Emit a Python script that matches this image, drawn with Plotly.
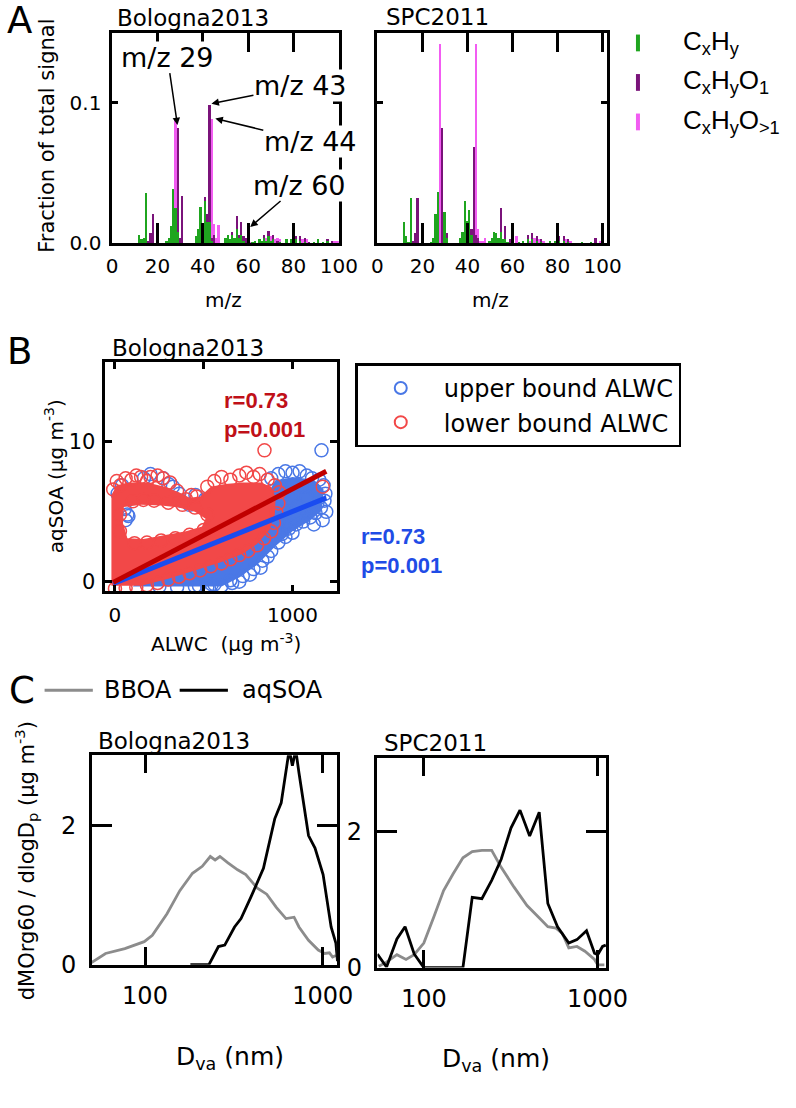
import plotly.graph_objects as go

W, H = 796, 1108
def px(x): return x / W
def py(y): return 1 - y / H

# ---------------- Panel A : mass spectra (fraction of total signal) ----------------
mz = list(range(12, 101))

bol_hc_mz = [12,13,14,15,24,25,26,27,28,29,37,38,39,40,41,42,43,44,50,51,52,53,54,55,56,57,58,62,63,65,66,67,68,69,70,71,74,77,79,81,83,85,89,91,93,95]
bol_hc    = [.006,.003,.004,.036,.002,.004,.012,.039,.025,.008,.005,.010,.026,.011,.030,.015,.015,.002,.004,.006,.003,.006,.004,.010,.004,.006,.002,.001,.002,.003,.002,.004,.002,.005,.002,.003,.001,.003,.003,.003,.002,.001,.001,.003,.001,.002]
bol_o1_mz = [16,17,18,29,30,31,41,42,43,44,45,53,55,56,57,58,59,67,69,71,73,81,83,85,87,95,97]
bol_o1    = [.002,.007,.021,.074,.004,.034,.003,.006,.084,.002,.006,.002,.0095,.002,.009,.003,.004,.002,.004,.003,.002,.002,.003,.003,.001,.001,.002]
bol_o2_mz = [28,44,45,46,47,60,61,68,70,72,73,74,84,86,98,99,100]
bol_o2    = [.064,.085,.008,.004,.013,.009,.001,.002,.003,.003,.002,.002,.003,.003,.002,.002,.002]

spc_hc_mz = [12,13,14,15,24,25,26,27,30,31,37,38,39,40,41,42,50,51,52,53,54,55,56,57,58,63,65,67,69,71,73,77,79,81,83,85,91,95]
spc_hc    = [.015,.0055,.001,.032,.001,.004,.021,.0366,.022,.004,.004,.008,.030,.016,.0235,.006,.002,.004,.008,.007,.004,.008,.003,.003,.001,.001,.002,.003,.003,.002,.001,.002,.002,.002,.002,.001,.001,.001]
spc_o1_mz = [16,17,18,29,31,42,43,44,45,55,57,59,67,69,71,73,81,83,85,97]
spc_o1    = [.002,.0077,.032,.0824,.003,.004,.069,.006,.004,.017,.009,.003,.003,.004,.003,.002,.003,.003,.002,.004]
spc_o2_mz = [28,44,45,46,47,48,60,62,68,70,72,74,84,86,99]
spc_o2    = [.142,.136,.006,.002,.002,.004,.002,.005,.002,.004,.003,.002,.003,.002,.002]

family_names = ["C<sub>x</sub>H<sub>y</sub>", "C<sub>x</sub>H<sub>y</sub>O<sub>1</sub>", "C<sub>x</sub>H<sub>y</sub>O<sub>&gt;1</sub>"]
family_colors = ["#1fa51f", "#7a137a", "#f25cf2"]

# ---------------- Panel B : aqSOA vs ALWC ----------------
# dense part of each point cloud (outline of the overlapping circles)
upper_core_x = [100, 600, 700, 800, 900, 1000, 1100, 1165, 1175, 1120, 1000, 900, 850, 600, 300]
upper_core_y = [-0.35, -0.35, 0.3, 1.2, 2.5, 3.6, 4.4, 5.1, 6.6, 7.3, 7.5, 7.2, 6.0, 3.0, 2.0]
lower_core_x = [-20, -20, 10, 80, 180, 280, 360, 420, 480, 540, 620, 720, 820, 880, 905, 900, 870, 800, 720, 600, 450, 300, 150]
lower_core_y = [-0.3, 6.2, 6.9, 7.1, 7.1, 6.8, 6.4, 6.0, 6.1, 6.8, 7.0, 7.1, 7.1, 6.8, 6.0, 4.8, 3.7, 2.7, 2.0, 1.4, 0.8, 0.2, -0.3]
lower_hole_x = [50, 150, 260, 360, 450, 510, 490, 400, 280, 160, 70, 45]
lower_hole_y = [5.35, 5.5, 5.45, 5.3, 5.0, 4.5, 3.95, 3.6, 3.3, 3.05, 3.1, 4.2]

# individual circles around the dense parts
upper_x = [15, 40, 163, 200, 272, 300, 326, 362, 370, 453, 508, 560, 420,
           55, 70, 60, 76,
           880, 920, 960, 1000, 1040, 1080, 1110, 1150, 1175, 1185, 1180, 1160, 1130, 1100, 1060, 1020, 980, 940,
           1190, 1150, 1110, 1070, 1030, 990, 1120, 1060, 1000, 950, 1080, 1140, 960, 920, 1010, 1170, 1120,
           1163,
           250, 350, 450, 520, 600, 660, 720, 780, 830, 880, 920, 560, 650, 473, 545, 700, 760, 820, 860, 960, 1000]
upper_y = [6.3, 6.9, 7.4, 7.7, 7.4, 7.0, 6.8, 6.3, 5.8, 6.2, 5.9, 5.6, 5.5,
           5.2, 4.8, 4.4, 4.7,
           7.4, 7.7, 7.9, 7.8, 7.9, 7.6, 7.4, 7.3, 6.9, 6.3, 5.8, 5.3, 4.9, 4.6, 4.3, 4.1, 3.8, 3.4,
           5.0, 6.0, 5.3, 5.0, 5.4, 5.9, 6.6, 6.8, 6.9, 6.4, 6.1, 5.6, 5.0, 4.3, 4.6, 4.4, 4.1,
           9.4,
           -0.35, -0.4, -0.35, -0.4, -0.3, -0.1, 0.4, 0.9, 1.5, 2.2, 2.8, -0.2, 0.1, -0.3, -0.2, 0.0, 0.5, 1.0, 1.8, 3.2, 3.5]
lower_x = [-10, 10, 30, 60, 93, 120, 147, 180, 200, 240, 270, 310, 350, 400, 430, 460,
           100, 160, 220, 300, 380, 450, 520, 500, 420, 340, 260, 180, 110, 28, 28,
           520, 560, 600, 650, 700, 740, 780, 815, 860, 900, 925, 920, 910, 895,
           880, 840, 800, 750, 700, 650, 600, 540, 480, 420, 360, 300, 240, 180, 120, 60, 0,
           842, 1170]
lower_y = [6.6, 7.2, 6.9, 7.4, 7.3, 7.6, 7.5, 7.2, 7.5, 7.6, 7.4, 7.1, 6.5, 5.9, 6.2, 6.1,
           5.75, 5.85, 5.8, 5.65, 5.5, 5.3, 4.8, 3.7, 3.35, 3.1, 2.95, 2.8, 2.75, 3.6, 4.8,
           6.8, 7.2, 7.5, 7.3, 7.6, 7.8, 7.5, 7.7, 7.3, 6.9, 6.4, 5.6, 4.9, 4.2,
           3.6, 3.1, 2.6, 2.2, 1.9, 1.6, 1.3, 1.1, 0.8, 0.6, 0.35, 0.15, -0.1, -0.25, -0.4, -0.45, -0.5,
           9.4, 6.8]
fit_x = [-10, 1190]
upper_fit = [-0.15, 6.0]
lower_fit = [-0.05, 7.9]

# ---------------- Panel C : size distributions ----------------
bol_bboa_d = [50, 53, 60, 77, 99, 110, 133, 157, 185, 210, 233, 248, 264, 293, 332, 369, 427, 484, 548, 621, 690, 735, 832, 944, 1026, 1091, 1137, 1186]
bol_bboa   = [0.03, 0.07, 0.16, 0.23, 0.33, 0.42, 0.73, 1.06, 1.31, 1.41, 1.55, 1.50, 1.55, 1.46, 1.36, 1.29, 1.10, 1.01, 0.82, 0.66, 0.68, 0.54, 0.35, 0.21, 0.16, 0.17, 0.11, 0.13]
bol_aq_d = [180, 229, 259, 281, 319, 347, 393, 464, 537, 584, 648, 675, 705, 735, 832, 905, 1005, 1070, 1115, 1186, 1211]
bol_aq   = [0, 0, 0.26, 0.28, 0.54, 0.66, 0.96, 1.38, 2.09, 2.32, 3.08, 2.85, 3.08, 2.75, 1.85, 1.67, 1.29, 0.87, 0.54, 0.31, 0.05]
spc_bboa_d = [55, 61, 70, 79, 88, 100, 114, 130, 147, 168, 190, 216, 246, 279, 331, 393, 466, 518, 577, 628, 684, 762, 847, 962, 1004, 1096]
spc_bboa   = [0.02, 0.08, 0.19, 0.12, 0.19, 0.36, 0.74, 1.13, 1.37, 1.61, 1.70, 1.72, 1.72, 1.47, 1.18, 0.91, 0.72, 0.60, 0.58, 0.50, 0.29, 0.31, 0.24, 0.12, 0.04, 0.04]
spc_aq_d = [54, 61, 70, 78, 88, 100, 168, 190, 216, 246, 279, 318, 358, 407, 462, 518, 589, 684, 762, 865, 962, 1004, 1070, 1117]
spc_aq   = [0.20, 0.01, 0.42, 0.60, 0.20, 0.0, 0.0, 1.03, 1.01, 1.28, 1.59, 2.05, 2.31, 1.93, 2.28, 0.94, 0.60, 0.36, 0.41, 0.54, 0.21, 0.19, 0.31, 0.33]

# ======================================================================
fig = go.Figure()

def dense(keys, vals):
    d = dict(zip(keys, vals))
    return [d.get(m, 0) for m in mz]

for xa, ya, series in [("x", "y", [(bol_hc_mz, bol_hc), (bol_o1_mz, bol_o1), (bol_o2_mz, bol_o2)]),
                       ("x2", "y2", [(spc_hc_mz, spc_hc), (spc_o1_mz, spc_o1), (spc_o2_mz, spc_o2)])]:
    for (k, v), name, col in zip(series, family_names, family_colors):
        fig.add_trace(go.Bar(x=mz, y=dense(k, v), width=1, marker=dict(color=col, line=dict(width=0)),
                             name=name, showlegend=False, xaxis=xa, yaxis=ya))

BLUE_PT = "#4a78e6"
RED_PT = "#f24848"
fig.add_trace(go.Scatter(x=upper_core_x + [upper_core_x[0]], y=upper_core_y + [upper_core_y[0]],
                         mode="lines", fill="toself", fillcolor=BLUE_PT, line=dict(width=0),
                         showlegend=False, hoverinfo="skip", xaxis="x3", yaxis="y3"))
fig.add_trace(go.Scatter(x=upper_x, y=upper_y, mode="markers", name="upper bound ALWC",
                         marker=dict(symbol="circle-open", size=13, color=BLUE_PT, line=dict(width=1.5, color=BLUE_PT)),
                         xaxis="x3", yaxis="y3"))
hx = lower_hole_x[::-1]
hy = lower_hole_y[::-1]
fig.add_trace(go.Scatter(x=lower_core_x + [lower_core_x[0]] + hx + [hx[0], lower_core_x[0]],
                         y=lower_core_y + [lower_core_y[0]] + hy + [hy[0], lower_core_y[0]],
                         mode="lines", fill="toself", fillcolor=RED_PT, line=dict(width=0),
                         showlegend=False, hoverinfo="skip", xaxis="x3", yaxis="y3"))
fig.add_trace(go.Scatter(x=lower_x, y=lower_y, mode="markers", name="lower bound ALWC",
                         marker=dict(symbol="circle-open", size=13, color=RED_PT, line=dict(width=1.5, color=RED_PT)),
                         xaxis="x3", yaxis="y3"))
fig.add_trace(go.Scatter(x=fit_x, y=upper_fit, mode="lines", line=dict(color="#1a4cf0", width=5),
                         showlegend=False, xaxis="x3", yaxis="y3"))
fig.add_trace(go.Scatter(x=fit_x, y=lower_fit, mode="lines", line=dict(color="#c00000", width=5),
                         showlegend=False, xaxis="x3", yaxis="y3"))

GRAY = "#8c8c8c"
for xa, ya, d1, v1, d2, v2 in [("x4", "y4", bol_bboa_d, bol_bboa, bol_aq_d, bol_aq),
                               ("x5", "y5", spc_bboa_d, spc_bboa, spc_aq_d, spc_aq)]:
    fig.add_trace(go.Scatter(x=d1, y=v1, mode="lines", line=dict(color=GRAY, width=2.8),
                             name="BBOA", showlegend=False, xaxis=xa, yaxis=ya))
    fig.add_trace(go.Scatter(x=d2, y=v2, mode="lines", line=dict(color="black", width=2.8),
                             name="aqSOA", showlegend=False, xaxis=xa, yaxis=ya))

def axis(domain, anchor, **kw):
    base = dict(domain=domain, anchor=anchor, showline=True, linecolor="black", linewidth=2.5,
                mirror="ticks", ticks="inside", tickcolor="black", tickwidth=2.5,
                showgrid=False, zeroline=False)
    base.update(kw)
    return base

FONT = "DejaVu Sans"
S = 18  # vertical offset for panels B and C
yA = [py(246), py(33)]
fig.update_layout(
    width=W, height=H, margin=dict(l=0, r=0, t=0, b=0),
    paper_bgcolor="white", plot_bgcolor="white",
    barmode="stack", bargap=0,
    font=dict(family=FONT, size=20, color="black"),
    xaxis=axis([px(110), px(345)], "y", range=[0, 100], tickvals=[0, 20, 40, 60, 80, 100],
               ticklen=20, tickfont=dict(size=20), ticklabelstandoff=3),
    yaxis=axis(yA, "x", range=[0, 0.15], tickvals=[0, 0.1], ticktext=["0.0", "0.1"],
               ticklen=6, tickfont=dict(size=20), ticklabelstandoff=4),
    xaxis2=axis([px(385), px(623)], "y2", range=[0, 102], tickvals=[0, 20, 40, 60, 80, 100],
                ticklen=20, tickfont=dict(size=20), ticklabelstandoff=3),
    yaxis2=axis(yA, "x2", range=[0, 0.15], tickvals=[0, 0.1], ticklen=6, showticklabels=False),
    xaxis3=axis([px(103), px(343)], "y3", range=[-54, 1250], tickvals=[0, 500, 1000],
                ticktext=["0", "", "1000"], ticklen=7, tickfont=dict(size=20), ticklabelstandoff=4),
    yaxis3=axis([py(617 - S), py(385 - S)], "x3", range=[-0.7, 15.7], tickvals=[0, 10],
                ticklen=7, tickfont=dict(size=21), ticklabelstandoff=3),
    xaxis4=axis([px(89), px(343)], "y4", type="log", range=[1.701, 3.08], tickvals=[100, 1000],
                ticktext=["100", "1000"], ticklen=18, tickfont=dict(size=24), ticklabelstandoff=8),
    yaxis4=axis([py(995 - S), py(783 - S)], "x4", range=[0, 3.0], tickvals=[0, 2],
                ticklen=20, tickfont=dict(size=24), ticklabelstandoff=8),
    xaxis5=axis([px(385), px(622)], "y5", type="log", range=[1.733, 3.05], tickvals=[100, 1000],
                ticktext=["100", "1000"], ticklen=18, tickfont=dict(size=24), ticklabelstandoff=8),
    yaxis5=axis([py(998 - S), py(786 - S)], "x5", range=[0, 3.07], tickvals=[0, 2],
                ticklen=20, tickfont=dict(size=24), ticklabelstandoff=8),
    legend=dict(x=px(362), y=py(386 - S), xanchor="left", yanchor="top", bordercolor="black",
                borderwidth=2.5, bgcolor="white", font=dict(size=24, family=FONT),
                itemsizing="constant", itemwidth=76, tracegroupgap=0, traceorder="normal"),
)

ann = []
def txt(x, y, s, size=20, xanchor="center", yanchor="middle", textangle=0, color="black",
        family=FONT, align="center"):
    ann.append(dict(x=px(x), y=py(y), xref="paper", yref="paper", text=s, showarrow=False,
                    xanchor=xanchor, yanchor=yanchor, textangle=textangle,
                    font=dict(size=size, color=color, family=family), align=align))

# panel letters
txt(14, 21, "A", size=37)
txt(14, 374 - S, "B", size=37)
txt(17, 717 - S, "C", size=37)
# panel titles
txt(113, 18, "Bologna2013", size=23, xanchor="left")
txt(392, 17, "SPC2011", size=23, xanchor="left")
txt(108, 370 - S, "Bologna2013", size=23, xanchor="left")
txt(93, 768 - S, "Bologna2013", size=23, xanchor="left")
txt(390, 771 - S, "SPC2011", size=23, xanchor="left")
# axis titles
txt(43, 137, "Fraction of total signal", size=21, textangle=-90)
txt(225, 304, "m/z", size=20)
txt(502, 304, "m/z", size=20)
txt(50, 500 - S, "aqSOA (μg m<sup>-3</sup>)", size=20, textangle=-90)
txt(228, 651, "ALWC  (μg m<sup>-3</sup>)", size=20)
txt(21, 890 - S, "dMOrg60 / dlogD<sub>p</sub> (μg m<sup>-3</sup>)", size=21, textangle=-90)
txt(232, 1072, "D<sub>va</sub> (nm)", size=25)
txt(508, 1074, "D<sub>va</sub> (nm)", size=25)
# panel A legend
for i, (name, col) in enumerate(zip(family_names, family_colors)):
    txt(700, 43 + 40 * i, name, size=26, xanchor="left", align="left", family="Liberation Sans")
# panel B statistics
txt(224, 438 - S, "<b>r=0.73<br>p=0.001</b>", size=22, xanchor="left", color="#c01018",
    family="Liberation Sans", align="left")
txt(366, 576 - S, "<b>r=0.73<br>p=0.001</b>", size=22, xanchor="left", color="#1f4ce6",
    family="Liberation Sans", align="left")
# panel C legend
txt(100, 717 - S, "BBOA", size=24, xanchor="left")
txt(243, 717 - S, "aqSOA", size=24, xanchor="left")

# m/z labels with arrows in panel A
for x, y, s, axp, ayp in [(28.8, 0.084, "m/z 29", -10, -68), (43.8, 0.0993, "m/z 43", 89, -18),
                          (45.5, 0.0887, "m/z 44", 95, 23), (60.9, 0.0113, "m/z 60", 49, -42)]:
    ann.append(dict(x=x, y=y, xref="x", yref="y", text=s, showarrow=True, ax=axp, ay=ayp,
                    arrowhead=2, arrowsize=1, arrowwidth=1.5, arrowcolor="black",
                    bgcolor="white", borderpad=0, font=dict(size=27, family=FONT, color="black")))

shapes = []
for i, col in enumerate(family_colors):
    shapes.append(dict(type="line", xref="paper", yref="paper", x0=px(655), x1=px(655),
                       y0=py(35 + 40 * i), y1=py(52 + 40 * i), line=dict(color=col, width=4)))
shapes.append(dict(type="line", xref="paper", yref="paper", x0=px(40), x1=px(90), y0=py(717 - S), y1=py(717 - S),
                   line=dict(color=GRAY, width=3)))
shapes.append(dict(type="line", xref="paper", yref="paper", x0=px(180), x1=px(230), y0=py(717 - S), y1=py(717 - S),
                   line=dict(color="black", width=3)))

fig.update_layout(annotations=ann, shapes=shapes)
fig.write_html("out.html", config={"displayModeBar": False},
               post_script="document.body.style.margin='0px';document.body.style.overflow='hidden';")
